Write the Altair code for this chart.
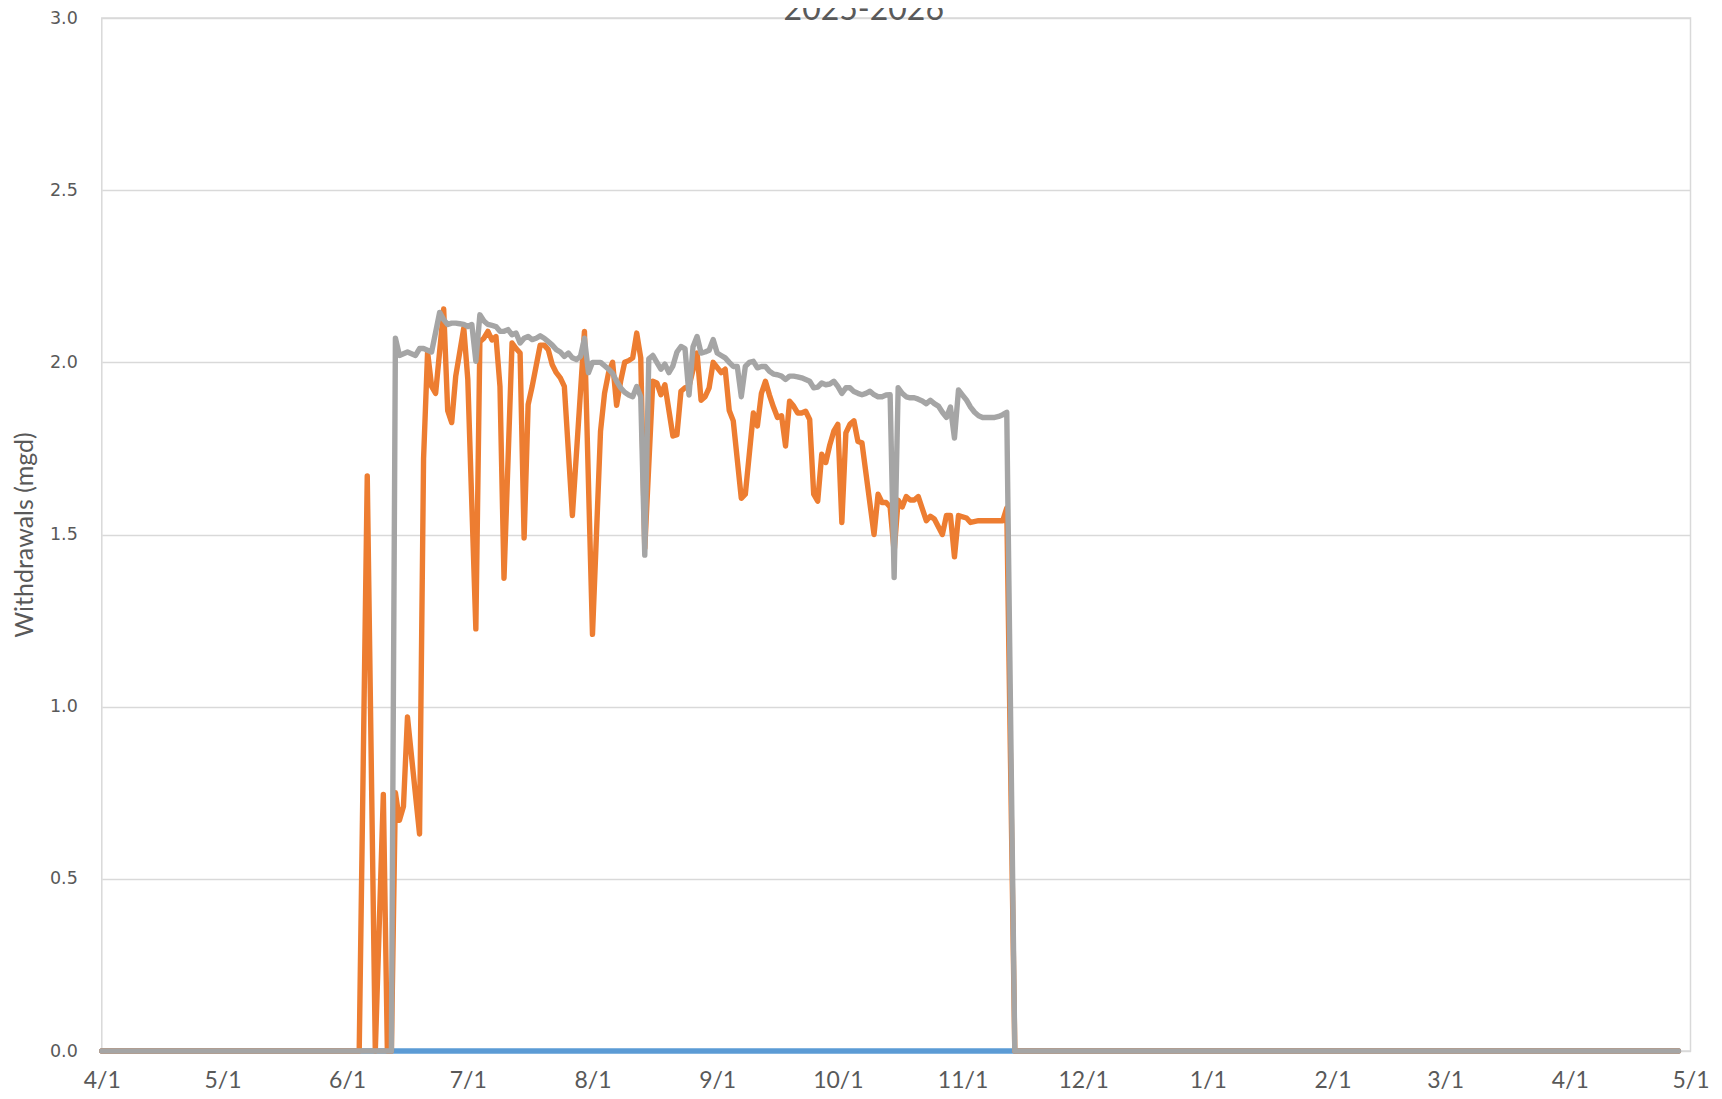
import altair as alt
import pandas as pd

title_text = "2025-2026"
y_title = "Withdrawals (mgd)"
y_ticks = [0.0, 0.5, 1.0, 1.5, 2.0, 2.5, 3.0]
x_tick_months = [(2025, 4), (2025, 5), (2025, 6), (2025, 7), (2025, 8), (2025, 9),
                 (2025, 10), (2025, 11), (2025, 12), (2026, 1), (2026, 2), (2026, 3),
                 (2026, 4), (2026, 5)]

blue_dates = ["2025-04-01", "2026-04-28"]
blue_values = [0, 0]

orange_dates = [
    "2025-04-01", "2025-06-04", "2025-06-06", "2025-06-08", "2025-06-10", "2025-06-11",
    "2025-06-12", "2025-06-13", "2025-06-14", "2025-06-15", "2025-06-16", "2025-06-19",
    "2025-06-20", "2025-06-21", "2025-06-22", "2025-06-23", "2025-06-25", "2025-06-26",
    "2025-06-27", "2025-06-28", "2025-06-30", "2025-07-01", "2025-07-03", "2025-07-04",
    "2025-07-05", "2025-07-06", "2025-07-07", "2025-07-08", "2025-07-09", "2025-07-10",
    "2025-07-12", "2025-07-13", "2025-07-14", "2025-07-15", "2025-07-16", "2025-07-17",
    "2025-07-18", "2025-07-19", "2025-07-20", "2025-07-21", "2025-07-22", "2025-07-23",
    "2025-07-24", "2025-07-25", "2025-07-27", "2025-07-30", "2025-08-01", "2025-08-03",
    "2025-08-04", "2025-08-05", "2025-08-06", "2025-08-07", "2025-08-08", "2025-08-09",
    "2025-08-10", "2025-08-11", "2025-08-12", "2025-08-13", "2025-08-14", "2025-08-16",
    "2025-08-17", "2025-08-18", "2025-08-19", "2025-08-21", "2025-08-22", "2025-08-23",
    "2025-08-24", "2025-08-25", "2025-08-27", "2025-08-28", "2025-08-29", "2025-08-30",
    "2025-08-31", "2025-09-01", "2025-09-02", "2025-09-03", "2025-09-04", "2025-09-05",
    "2025-09-07", "2025-09-08", "2025-09-10", "2025-09-11", "2025-09-12", "2025-09-13",
    "2025-09-14", "2025-09-15", "2025-09-16", "2025-09-17", "2025-09-18", "2025-09-19",
    "2025-09-20", "2025-09-21", "2025-09-22", "2025-09-23", "2025-09-24", "2025-09-25",
    "2025-09-26", "2025-09-27", "2025-09-28", "2025-09-29", "2025-09-30", "2025-10-01",
    "2025-10-02", "2025-10-03", "2025-10-04", "2025-10-05", "2025-10-06", "2025-10-07",
    "2025-10-10", "2025-10-11", "2025-10-12", "2025-10-13", "2025-10-14", "2025-10-15",
    "2025-10-16", "2025-10-17", "2025-10-18", "2025-10-19", "2025-10-20", "2025-10-21",
    "2025-10-23", "2025-10-24", "2025-10-25", "2025-10-27", "2025-10-28", "2025-10-29",
    "2025-10-30", "2025-10-31", "2025-11-02", "2025-11-03", "2025-11-05", "2025-11-11",
    "2025-11-12", "2025-11-14", "2026-04-28",
]
orange_values = [
    0, 0, 1.67, 0, 0.745, 0,
    0, 0.75, 0.67, 0.71, 0.97, 0.63,
    1.72, 2.03, 1.93, 1.91, 2.155, 1.86,
    1.825, 1.96, 2.10, 1.95, 1.226, 2.06,
    2.07, 2.09, 2.065, 2.075, 1.93, 1.373,
    2.056, 2.04, 2.027, 1.49, 1.877, 1.93,
    1.99, 2.05, 2.05, 2.037, 1.993, 1.97,
    1.955, 1.93, 1.555, 2.09, 1.21, 1.80,
    1.91, 1.97, 2.0, 1.875, 1.945, 2.0,
    2.005, 2.013, 2.085, 2.013, 1.46, 1.945,
    1.94, 1.906, 1.935, 1.786, 1.79, 1.916,
    1.926, 1.93, 2.027, 1.89, 1.90, 1.926,
    2.0, 1.985, 1.97, 1.98, 1.86, 1.83,
    1.605, 1.617, 1.853, 1.815, 1.91, 1.945,
    1.905, 1.87, 1.84, 1.845, 1.757, 1.887,
    1.873, 1.853, 1.853, 1.858, 1.834, 1.617,
    1.597, 1.733, 1.709, 1.76, 1.80, 1.82,
    1.535, 1.795, 1.82, 1.83, 1.77, 1.766,
    1.50, 1.617, 1.593, 1.593, 1.58, 1.45,
    1.60, 1.58, 1.61, 1.60, 1.60, 1.61,
    1.54, 1.553, 1.545, 1.50, 1.555, 1.555,
    1.435, 1.555, 1.548, 1.535, 1.54, 1.54,
    1.577, 0, 0,
]

gray_dates = [
    "2025-04-01", "2025-06-12", "2025-06-13", "2025-06-14", "2025-06-15", "2025-06-16",
    "2025-06-17", "2025-06-18", "2025-06-19", "2025-06-20", "2025-06-21", "2025-06-22",
    "2025-06-24", "2025-06-25", "2025-06-26", "2025-06-27", "2025-06-28", "2025-06-29",
    "2025-06-30", "2025-07-01", "2025-07-02", "2025-07-03", "2025-07-04", "2025-07-05",
    "2025-07-06", "2025-07-07", "2025-07-08", "2025-07-09", "2025-07-10", "2025-07-11",
    "2025-07-12", "2025-07-13", "2025-07-14", "2025-07-15", "2025-07-16", "2025-07-17",
    "2025-07-18", "2025-07-19", "2025-07-20", "2025-07-21", "2025-07-22", "2025-07-23",
    "2025-07-24", "2025-07-25", "2025-07-26", "2025-07-27", "2025-07-28", "2025-07-29",
    "2025-07-30", "2025-07-31", "2025-08-01", "2025-08-02", "2025-08-03", "2025-08-04",
    "2025-08-05", "2025-08-06", "2025-08-07", "2025-08-08", "2025-08-09", "2025-08-10",
    "2025-08-11", "2025-08-12", "2025-08-13", "2025-08-14", "2025-08-15", "2025-08-16",
    "2025-08-17", "2025-08-18", "2025-08-19", "2025-08-20", "2025-08-21", "2025-08-22",
    "2025-08-23", "2025-08-24", "2025-08-25", "2025-08-26", "2025-08-27", "2025-08-28",
    "2025-08-29", "2025-08-30", "2025-08-31", "2025-09-01", "2025-09-02", "2025-09-03",
    "2025-09-04", "2025-09-05", "2025-09-06", "2025-09-07", "2025-09-08", "2025-09-09",
    "2025-09-10", "2025-09-11", "2025-09-12", "2025-09-13", "2025-09-14", "2025-09-15",
    "2025-09-16", "2025-09-17", "2025-09-18", "2025-09-19", "2025-09-20", "2025-09-21",
    "2025-09-22", "2025-09-23", "2025-09-24", "2025-09-25", "2025-09-26", "2025-09-27",
    "2025-09-28", "2025-09-29", "2025-09-30", "2025-10-01", "2025-10-02", "2025-10-03",
    "2025-10-04", "2025-10-05", "2025-10-06", "2025-10-07", "2025-10-08", "2025-10-09",
    "2025-10-10", "2025-10-11", "2025-10-12", "2025-10-13", "2025-10-14", "2025-10-15",
    "2025-10-16", "2025-10-17", "2025-10-18", "2025-10-19", "2025-10-20", "2025-10-21",
    "2025-10-22", "2025-10-23", "2025-10-24", "2025-10-25", "2025-10-26", "2025-10-27",
    "2025-10-28", "2025-10-29", "2025-10-30", "2025-10-31", "2025-11-01", "2025-11-02",
    "2025-11-03", "2025-11-04", "2025-11-05", "2025-11-06", "2025-11-07", "2025-11-08",
    "2025-11-09", "2025-11-10", "2025-11-11", "2025-11-12", "2025-11-14", "2026-04-28",
]
gray_values = [
    0, 0, 2.07, 2.02, 2.025, 2.03,
    2.025, 2.02, 2.04, 2.04, 2.035, 2.03,
    2.145, 2.124, 2.11, 2.114, 2.114, 2.112,
    2.11, 2.104, 2.11, 2.003, 2.138, 2.12,
    2.11, 2.107, 2.104, 2.09, 2.09, 2.095,
    2.08, 2.085, 2.056, 2.07, 2.075, 2.066,
    2.07, 2.077, 2.07, 2.06, 2.05, 2.037,
    2.03, 2.017, 2.027, 2.013, 2.008, 2.017,
    2.07, 1.97, 2.0, 2.0, 2.0, 1.99,
    1.98, 1.968, 1.945, 1.926, 1.913, 1.905,
    1.90, 1.93, 1.90, 1.44, 2.01, 2.02,
    2.0, 1.98, 1.995, 1.97, 1.99, 2.03,
    2.046, 2.04, 1.905, 2.045, 2.075, 2.027,
    2.03, 2.035, 2.066, 2.027, 2.02, 2.013,
    2.0, 1.988, 1.988, 1.90, 1.988, 2.0,
    2.003, 1.984, 1.988, 1.988, 1.974, 1.966,
    1.964, 1.96, 1.95, 1.96, 1.96, 1.958,
    1.955, 1.95, 1.945, 1.926, 1.928, 1.94,
    1.935, 1.937, 1.945, 1.93, 1.91, 1.926,
    1.926, 1.915, 1.91, 1.906, 1.91, 1.916,
    1.906, 1.90, 1.90, 1.905, 1.906, 1.375,
    1.926, 1.91, 1.90, 1.897, 1.897, 1.893,
    1.888, 1.88, 1.89, 1.88, 1.873, 1.855,
    1.84, 1.87, 1.78, 1.92, 1.905, 1.89,
    1.87, 1.855, 1.845, 1.84, 1.84, 1.84,
    1.84, 1.843, 1.848, 1.855, 0, 0,
]

COL_BLUE = "#5B9BD5"
COL_ORANGE = "#ED7D31"
COL_GRAY = "#A5A5A5"
TEXT_COL = "#595959"
GRID_COL = "#D9D9D9"
NARROW_FONT = "Lato"

TOP_PAD = 10
PLOT_W = 1588.7
PLOT_H = 1033


def frame(dates, values):
    return pd.DataFrame({"date": dates, "value": values})


x_scale = alt.Scale(
    type="utc",
    domain=[alt.DateTime(year=2025, month=4, date=1, utc=True),
            alt.DateTime(year=2026, month=5, date=1, utc=True)],
)
y_scale = alt.Scale(domain=[0, 3], nice=False, zero=True)

x_axis = alt.Axis(
    title=None,
    values=[alt.DateTime(year=y, month=m, date=1, utc=True) for y, m in x_tick_months],
    labelExpr="utcFormat(datum.value, '%-m/%-d')",
    grid=False,
    ticks=False,
    tickSize=0,
    domain=False,
    labelFont=NARROW_FONT,
    labelFontSize=23,
    labelColor=TEXT_COL,
    labelPadding=18,
    labelFlush=False,
    labelOverlap=False,
)
y_axis = alt.Axis(
    title=y_title,
    values=y_ticks,
    format=".1f",
    grid=True,
    gridColor=GRID_COL,
    gridWidth=1.5,
    ticks=False,
    tickSize=0,
    domain=False,
    labelFont="DejaVu Sans",
    labelFontSize=17.5,
    labelColor=TEXT_COL,
    labelPadding=24.5,
    titleFont=NARROW_FONT,
    titleFontSize=25,
    titleFontWeight="normal",
    titleColor=TEXT_COL,
    titleX=-77,
    titleY=PLOT_H / 2,
    titleAngle=270,
    titleAlign="center",
    titleBaseline="middle",
)


def series(dates, values, color):
    return alt.Chart(frame(dates, values)).mark_line(
        color=color, strokeWidth=5.4, strokeCap="round", strokeJoin="round"
    ).encode(
        x=alt.X("date:T", scale=x_scale, axis=x_axis),
        y=alt.Y("value:Q", scale=y_scale, axis=y_axis),
    )


blue = series(blue_dates, blue_values, COL_BLUE)
orange = series(orange_dates, orange_values, COL_ORANGE)
gray = series(gray_dates, gray_values, COL_GRAY)

title = alt.Chart(pd.DataFrame({"t": [title_text]})).mark_text(
    font="Lato", fontSize=32, color=TEXT_COL, align="center", baseline="alphabetic"
).encode(
    text="t:N",
    x=alt.value(762),
    y=alt.value(1.5),
)

chart = alt.layer(blue, orange, gray, title).properties(
    width=PLOT_W,
    height=PLOT_H,
    autosize=alt.AutoSizeParams(type="none"),
    padding={"left": 93.8, "top": TOP_PAD, "right": 20, "bottom": 40},
).configure_view(
    stroke=GRID_COL, strokeWidth=1.5
)

chart.save("out.html", embed_options={"renderer": "svg", "actions": False})
